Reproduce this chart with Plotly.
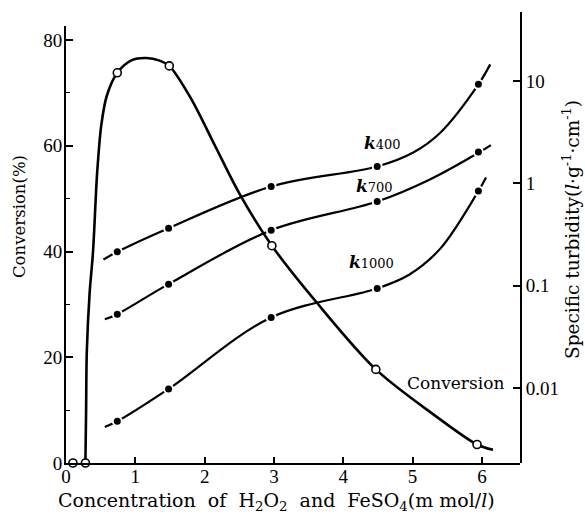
import plotly.graph_objects as go

# Measured points (concentration of H2O2 and FeSO4, mmol/l)
conv_x = [0.10, 0.28, 0.74, 1.49, 2.97, 4.47, 5.93]
conv_y = [0.0, 0.0, 73.8, 75.1, 41.1, 17.7, 3.5]

k_x = [0.74, 1.48, 2.96, 4.49, 5.95]
k400 = [0.214, 0.364, 0.93, 1.46, 9.25]
k700 = [0.0527, 0.1035, 0.348, 0.663, 2.02]
k1000 = [0.00473, 0.0098, 0.049, 0.094, 0.84]

# Hand-drawn smooth curves through the data
conv_curve_x = [0.28, 0.29, 0.30, 0.34, 0.39, 0.45, 0.51, 0.59, 0.74, 0.95, 1.16, 1.35, 1.49,
                1.80, 2.15, 2.50, 2.97, 3.62, 4.47, 5.30, 5.93, 6.16]
conv_curve_y = [0.0, 10.0, 21.0, 32.0, 40.0, 55.0, 64.0, 69.5, 73.8, 76.2, 76.6, 76.1, 75.1,
                69.0, 60.0, 51.0, 41.1, 30.3, 17.7, 9.2, 3.5, 2.5]

k400_curve_x = [0.54, 0.74, 1.48, 2.96, 4.49, 5.01, 5.40, 5.95, 6.12]
k400_curve_y = [0.18, 0.214, 0.364, 0.93, 1.46, 2.0, 3.12, 9.25, 14.5]
k700_curve_x = [0.56, 0.74, 1.48, 2.96, 4.49, 5.25, 5.97, 6.13]
k700_curve_y = [0.047, 0.0527, 0.1035, 0.348, 0.663, 1.09, 2.02, 2.36]
k1000_curve_x = [0.56, 0.74, 1.48, 2.96, 4.49, 4.95, 5.40, 5.95, 6.06]
k1000_curve_y = [0.00417, 0.00473, 0.0098, 0.049, 0.094, 0.128, 0.23, 0.84, 1.14]

x_ticks = [0, 1, 2, 3, 4, 5, 6]
left_ticks = [0, 20, 40, 60, 80]
right_ticks = [0.01, 0.1, 1, 10]
right_tick_text = ["0.01", "0.1", "1", "10"]

INK = "black"
SERIF = "Liberation Serif"
TEXT_SERIF = "DejaVu Serif"

W, H = 585, 517
ML, MR, MT, MB = 66, 65, 12, 54

fig = go.Figure()

# Conversion curve (left axis)
fig.add_trace(go.Scatter(x=conv_curve_x, y=conv_curve_y, mode="lines",
                         line=dict(color=INK, width=2.6, shape="spline", smoothing=0.9),
                         xaxis="x", yaxis="y", hoverinfo="skip", showlegend=False))
fig.add_trace(go.Scatter(x=conv_x, y=conv_y, mode="markers", cliponaxis=False,
                         marker=dict(symbol="circle", size=8, color="white",
                                     line=dict(color=INK, width=1.6)),
                         xaxis="x", yaxis="y", showlegend=False))

# Specific turbidity curves (right log axis)
for cx, cy, ky in [(k400_curve_x, k400_curve_y, k400),
                   (k700_curve_x, k700_curve_y, k700),
                   (k1000_curve_x, k1000_curve_y, k1000)]:
    fig.add_trace(go.Scatter(x=cx, y=cy, mode="lines",
                             line=dict(color=INK, width=2.2, shape="spline", smoothing=1.0),
                             xaxis="x", yaxis="y2", hoverinfo="skip", showlegend=False))
    fig.add_trace(go.Scatter(x=k_x, y=ky, mode="markers",
                             marker=dict(symbol="circle", size=9, color=INK,
                                         line=dict(color="white", width=2)),
                             xaxis="x", yaxis="y2", showlegend=False))

tick_font = dict(family=SERIF, size=19, color=INK)

fig.update_layout(
    width=W, height=H,
    margin=dict(l=ML, r=MR, t=MT, b=MB),
    paper_bgcolor="white", plot_bgcolor="rgba(0,0,0,0)",
    xaxis=dict(range=[0, 6.55], tickvals=x_ticks, ticks="inside", ticklen=6,
               tickcolor=INK, tickwidth=1.5, showline=True, linecolor=INK, linewidth=2,
               showgrid=False, zeroline=False, tickfont=tick_font, anchor="y",
               ticklabelstandoff=-5),
    yaxis=dict(domain=[0, 0.969], range=[0, 82.65], tickvals=left_ticks, ticks="inside",
               ticklen=7, tickcolor=INK, tickwidth=1.5, showline=True, linecolor=INK,
               linewidth=2, showgrid=False, zeroline=False, tickfont=tick_font,
               minor=dict(tickvals=[10, 30, 50, 70], ticks="inside", ticklen=4,
                          tickcolor=INK, tickwidth=1.2),
               anchor="x", ticklabelstandoff=-2),
    yaxis2=dict(domain=[0, 1], type="log", range=[-2.732, 1.673], tickvals=right_ticks,
                ticktext=right_tick_text, ticks="inside", ticklen=7, tickcolor=INK,
                tickwidth=1.5, showline=True, linecolor=INK, linewidth=2, showgrid=False,
                zeroline=False, side="right", anchor="x", tickfont=tick_font),
)

left_title_font = dict(family=TEXT_SERIF, size=16.5, color=INK)
right_title_font = dict(family=TEXT_SERIF, size=18.5, color=INK)
bottom_title_font = dict(family=TEXT_SERIF, size=19, color=INK)
label_font = dict(family=TEXT_SERIF, size=17, color=INK)

# (text, page x px, page y px, angle, font)
annotations = [
    ("Conversion(%)", 19, 217, -90, left_title_font),
    ("Specific turbidity(<i>l</i>·g<sup>-1</sup>·cm<sup>-1</sup>)", 571, 230, -90, right_title_font),
    ("Concentration  of  H<sub>2</sub>O<sub>2</sub>  and  FeSO<sub>4</sub>(m mol/<i>l</i>)",
     276, 501, 0, bottom_title_font),
    ("Conversion", 455, 383, 0, label_font),
    ("<b><i>k</i></b><span style='font-size:13px'>400</span>", 382, 143, 0, label_font),
    ("<b><i>k</i></b><span style='font-size:13px'>700</span>", 374, 186, 0, label_font),
    ("<b><i>k</i></b><span style='font-size:13px'>1000</span>", 371, 262, 0, label_font),
]
plot_w = W - ML - MR
plot_h = H - MT - MB
for text, px, py, ang, font in annotations:
    fig.add_annotation(text=text, x=(px - ML) / plot_w, y=(H - MB - py) / plot_h,
                       xref="paper", yref="paper", showarrow=False,
                       xanchor="center", yanchor="middle", textangle=ang, font=font)

fig.write_html("out.html")
